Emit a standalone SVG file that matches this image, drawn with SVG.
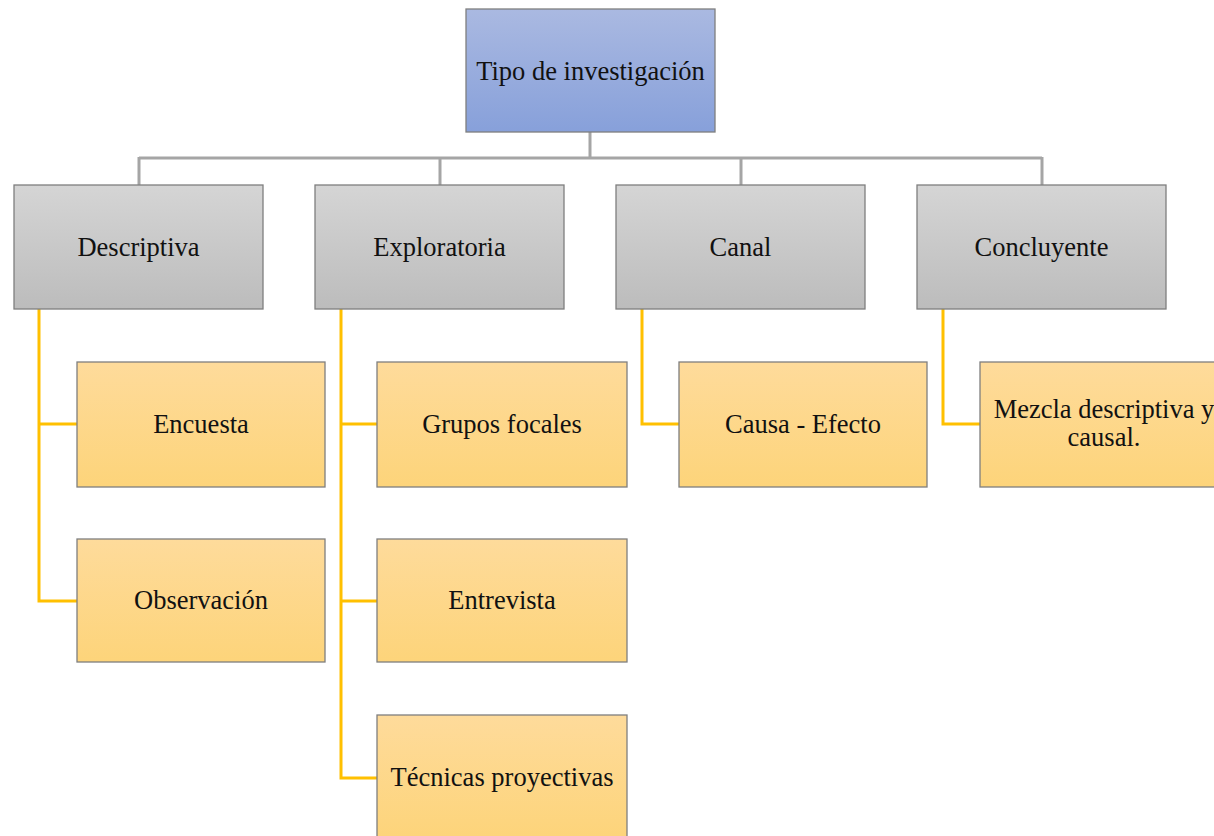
<svg xmlns="http://www.w3.org/2000/svg" width="1214" height="836" viewBox="0 0 1214 836">
<defs>
<linearGradient id="gBlue" x1="0" y1="0" x2="0" y2="1"><stop offset="0" stop-color="#aab9e1"/><stop offset="1" stop-color="#87a0da"/></linearGradient>
<linearGradient id="gGray" x1="0" y1="0" x2="0" y2="1"><stop offset="0" stop-color="#d5d5d5"/><stop offset="1" stop-color="#bcbcbc"/></linearGradient>
<linearGradient id="gGold" x1="0" y1="0" x2="0" y2="1"><stop offset="0" stop-color="#fedb9b"/><stop offset="1" stop-color="#fdd47a"/></linearGradient>
</defs>
<style>
.box{stroke:#7f7f7f;stroke-width:1.3}
.b{fill:url(#gBlue)}
.g{fill:url(#gGray)}
.y{fill:url(#gGold)}
text{font-family:"Liberation Serif","Times New Roman",serif;font-size:26.5px;fill:#111;text-anchor:middle}
.cg{fill:none;stroke:#a5a5a5;stroke-width:3}
.cy{fill:none;stroke:#ffc000;stroke-width:3}
</style>
<rect width="1214" height="836" fill="#fff"/>
<g id="connectors">
<path class="cg" d="M590 132V158M139 158H1042M139 157V185M440 157V185M741 157V185M1042 157V185"/>
<path class="cy" d="M39 309V601H77M39 424H77"/>
<path class="cy" d="M341 309V778H377M341 424H377M341 601H377"/>
<path class="cy" d="M642 309V424H679"/>
<path class="cy" d="M943 309V424H980"/>
</g>
<g id="root"><rect class="box b" x="466" y="9" width="249" height="123"/><text x="590.5" y="80">Tipo de investigación</text></g>
<g id="descriptiva"><rect class="box g" x="14" y="185" width="249" height="124"/><text x="138.5" y="256">Descriptiva</text></g>
<g id="exploratoria"><rect class="box g" x="315" y="185" width="249" height="124"/><text x="439.5" y="256">Exploratoria</text></g>
<g id="canal"><rect class="box g" x="616" y="185" width="249" height="124"/><text x="740.5" y="256">Canal</text></g>
<g id="concluyente"><rect class="box g" x="917" y="185" width="249" height="124"/><text x="1041.5" y="256">Concluyente</text></g>
<g id="encuesta"><rect class="box y" x="77" y="362" width="248" height="125"/><text x="201" y="433">Encuesta</text></g>
<g id="observacion"><rect class="box y" x="77" y="539" width="248" height="123"/><text x="201" y="609">Observación</text></g>
<g id="grupos"><rect class="box y" x="377" y="362" width="250" height="125"/><text x="502" y="433">Grupos focales</text></g>
<g id="entrevista"><rect class="box y" x="377" y="539" width="250" height="123"/><text x="502" y="609">Entrevista</text></g>
<g id="tecnicas"><rect class="box y" x="377" y="715" width="250" height="124"/><text x="502" y="786">Técnicas proyectivas</text></g>
<g id="causa"><rect class="box y" x="679" y="362" width="248" height="125"/><text x="803" y="433">Causa - Efecto</text></g>
<g id="mezcla"><rect class="box y" x="980" y="362" width="248" height="125"/><text x="1104" y="418">Mezcla descriptiva y</text><text x="1104" y="446">causal.</text></g>
</svg>
